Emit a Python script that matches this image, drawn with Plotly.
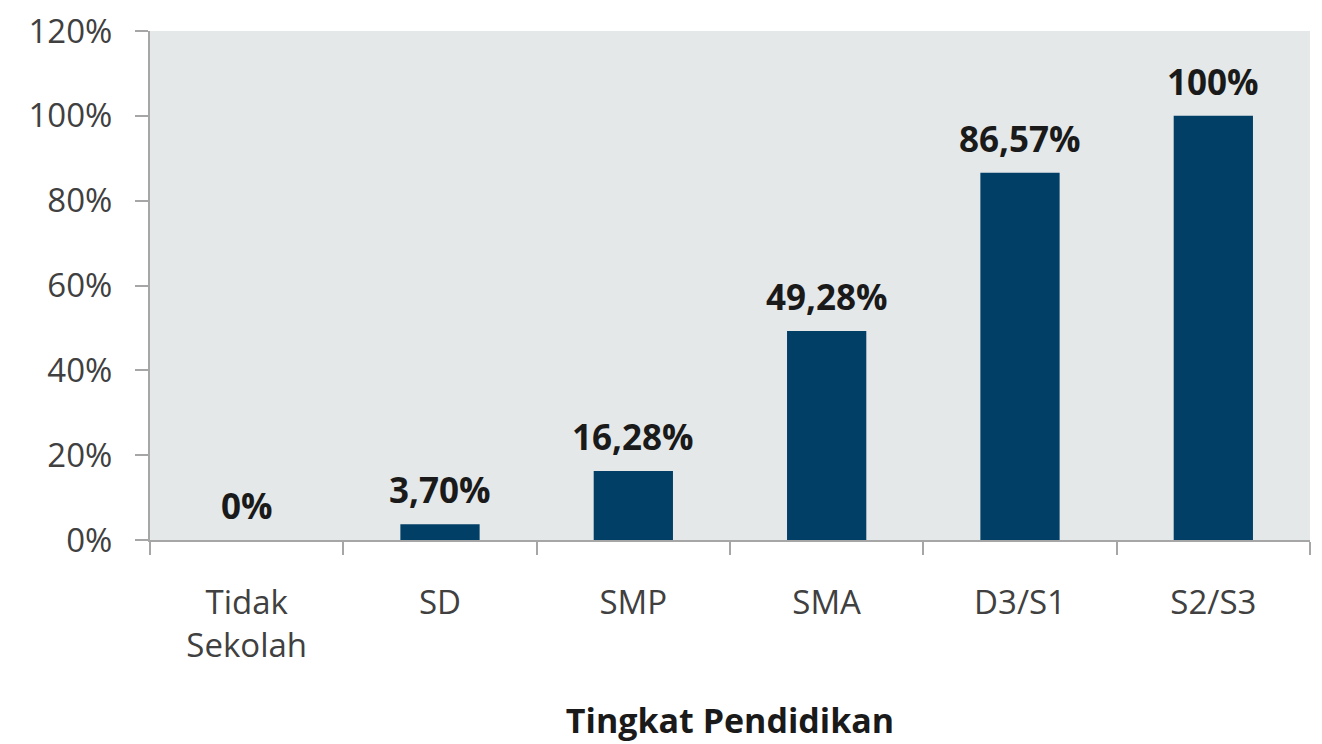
import plotly.graph_objects as go

categories = ["Tidak<br>Sekolah", "SD", "SMP", "SMA", "D3/S1", "S2/S3"]
values = [0, 3.70, 16.28, 49.28, 86.57, 100]
labels = ["0%", "3,70%", "16,28%", "49,28%", "86,57%", "100%"]
y_ticks = [0, 20, 40, 60, 80, 100, 120]
y_tick_text = ["0%", "20%", "40%", "60%", "80%", "100%", "120%"]

FONT = "Open Sans"
BAR = "#023f66"

fig = go.Figure()
fig.add_trace(go.Bar(
    x=categories, y=values, marker=dict(color=BAR, line=dict(width=0)),
    hoverinfo="skip",
))

annotations = []
for c, v, t in zip(categories, values, labels):
    annotations.append(dict(
        x=c, y=v, text=t, showarrow=False, yanchor="bottom", yshift=9,
        font=dict(family=FONT, size=35, color="#1a1a1a", weight="bold"),
    ))

fig.update_layout(
    width=1314, height=736,
    margin=dict(l=142, r=12, t=23, b=204),
    paper_bgcolor="white",
    plot_bgcolor="#e4e8e9",
    bargap=0.59,
    showlegend=False,
    annotations=annotations,
    font=dict(family=FONT, size=33, color="#404040"),
)
fig.update_xaxes(
    type="category", automargin=False,
    showline=True, linecolor="#a6a6a6", linewidth=2,
    ticks="outside", tickson="boundaries", ticklen=13, tickcolor="#a6a6a6", tickwidth=2,
    tickfont=dict(family=FONT, size=33, color="#404040"),
    ticklabelstandoff=32,
    showgrid=False,
    title=dict(text="<b>Tingkat Pendidikan</b>", font=dict(family=FONT, size=34, color="#1a1a1a"), standoff=44),
)
fig.update_yaxes(
    range=[0, 120], tickvals=y_ticks, ticktext=y_tick_text, automargin=False,
    ticklabeloverflow="allow",
    showline=True, linecolor="#a6a6a6", linewidth=2,
    ticks="outside", ticklen=13, tickcolor="#a6a6a6", tickwidth=2,
    tickfont=dict(family=FONT, size=33, color="#404040"),
    ticklabelstandoff=16,
    showgrid=False, zeroline=False,
)

fig.write_html("out.html")
